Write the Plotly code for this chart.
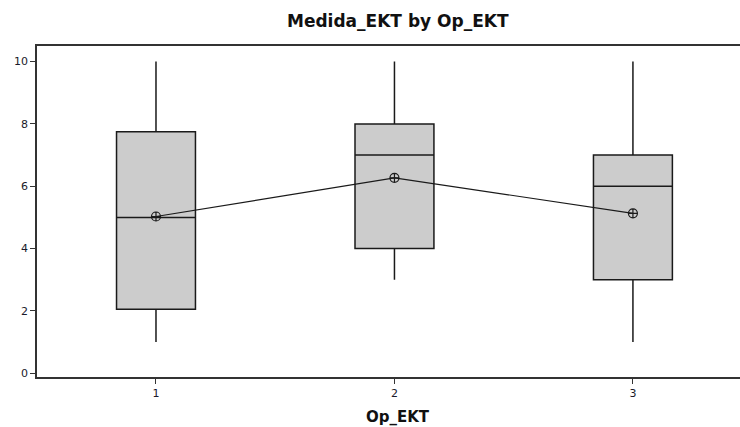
import plotly.graph_objects as go

categories = [1, 2, 3]
tick_labels = ["1", "2", "3"]
q1 = [2.05, 4.0, 3.0]
medians = [5.0, 7.0, 6.0]
q3 = [7.75, 8.0, 7.0]
lower_whisker = [1.0, 3.0, 1.0]
upper_whisker = [10.0, 10.0, 10.0]
means = [5.03, 6.27, 5.13]

fig = go.Figure()
fig.add_trace(go.Box(
    x=categories, q1=q1, median=medians, q3=q3,
    lowerfence=lower_whisker, upperfence=upper_whisker,
    width=0.331, whiskerwidth=0,
    fillcolor="#cccccc", line=dict(color="#1a1a1a", width=1.5),
    boxpoints=False, showlegend=False, hoverinfo="skip",
))
fig.add_trace(go.Scatter(
    x=categories, y=means, mode="lines+markers",
    line=dict(color="#1a1a1a", width=1.2),
    marker=dict(symbol="circle-cross-open", size=9, color="#1a1a1a",
                line=dict(width=1.2)),
    showlegend=False, hoverinfo="skip",
))

tick_font = dict(family="DejaVu Sans", size=11, color="#1a1a2a")
fig.update_layout(
    width=740, height=427,
    margin=dict(l=37, r=0, t=46, b=50),
    plot_bgcolor="white", paper_bgcolor="white",
    xaxis=dict(range=[0.501, 3.449], tickmode="array", tickvals=categories,
               ticktext=tick_labels, ticks="outside", ticklen=5, tickwidth=1,
               tickcolor="#333", showline=True, mirror=True, linecolor="#333",
               linewidth=1.8, showgrid=False, zeroline=False, tickfont=tick_font),
    yaxis=dict(range=[-0.12, 10.5], tickvals=[0, 2, 4, 6, 8, 10],
               ticks="outside", ticklen=5, tickwidth=1, tickcolor="#333",
               showline=True, mirror=False, linecolor="#333", linewidth=1.8,
               showgrid=False, zeroline=False, tickfont=tick_font),
    annotations=[
        dict(text="<b>Medida_EKT by Op_EKT</b>", xref="paper", yref="paper",
             x=(398 - 37) / 703, y=(377 - 21) / 331, xanchor="center",
             yanchor="middle", showarrow=False,
             font=dict(family="DejaVu Sans", size=17, color="#111")),
        dict(text="<b>Op_EKT</b>", xref="paper", yref="paper",
             x=(398 - 37) / 703, y=(377 - 417) / 331, xanchor="center",
             yanchor="middle", showarrow=False,
             font=dict(family="DejaVu Sans", size=15, color="#111")),
    ],
)
fig.write_html("out.html", config={"displayModeBar": False},
               post_script="document.body.style.margin='0';")
